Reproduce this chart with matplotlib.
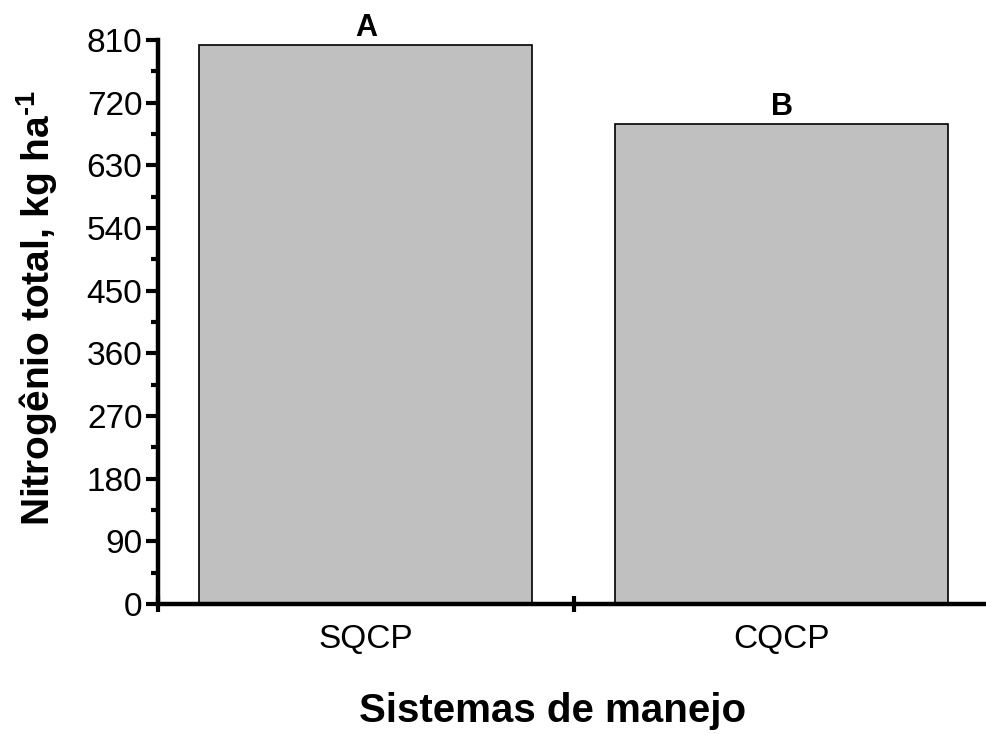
import matplotlib
matplotlib.use("Agg")
import matplotlib.pyplot as plt
from matplotlib.ticker import MultipleLocator, FixedLocator

plt.rcParams['font.family'] = ['Liberation Sans', 'DejaVu Sans']
plt.rcParams['mathtext.fontset'] = 'custom'
plt.rcParams['mathtext.rm'] = 'Liberation Sans:bold'
plt.rcParams['mathtext.bf'] = 'Liberation Sans:bold'

categories = ['SQCP', 'CQCP']
values = [803, 689]
letters = ['A', 'B']
yticks = [0, 90, 180, 270, 360, 450, 540, 630, 720, 810]

fig = plt.figure(figsize=(9.86, 7.34), dpi=100)
ax = fig.add_axes([0.160, 0.177, 0.8438, 0.7685])

x = list(range(len(categories)))
bars = ax.bar(x, values, width=0.8, color='#c0c0c0', edgecolor='black', linewidth=1.2)
for xi, v, l in zip(x, values, letters):
    ax.text(xi, v + 3, l, ha='center', va='bottom', fontsize=22, fontweight='bold')

ax.set_xlim(-0.5, 1.5)
ax.set_ylim(0, 810)
ax.set_yticks(yticks)
ax.yaxis.set_minor_locator(MultipleLocator(45))
ax.set_xticks(x)
ax.set_xticklabels(categories)
ax.xaxis.set_minor_locator(FixedLocator([-0.5, 0.5]))

for s in ['top', 'right']:
    ax.spines[s].set_visible(False)
for s in ['left', 'bottom']:
    ax.spines[s].set_linewidth(3.2)

ax.tick_params(axis='y', which='major', direction='out', length=9, width=3, labelsize=24, pad=2)
ax.tick_params(axis='y', which='minor', direction='out', length=5, width=3)
ax.tick_params(axis='x', which='major', length=0, labelsize=24, pad=14)
ax.tick_params(axis='x', which='minor', direction='inout', length=12, width=3)

ax.set_ylabel(r'Nitrogênio total, kg ha$^{\text{-}1}$', fontsize=28, fontweight='bold')
ax.set_xlabel('Sistemas de manejo', fontsize=29, fontweight='bold')
ax.yaxis.set_label_coords(-0.118, 0.525)
ax.xaxis.set_label_coords(0.475, -0.155)

fig.savefig('out.png', dpi=100)
